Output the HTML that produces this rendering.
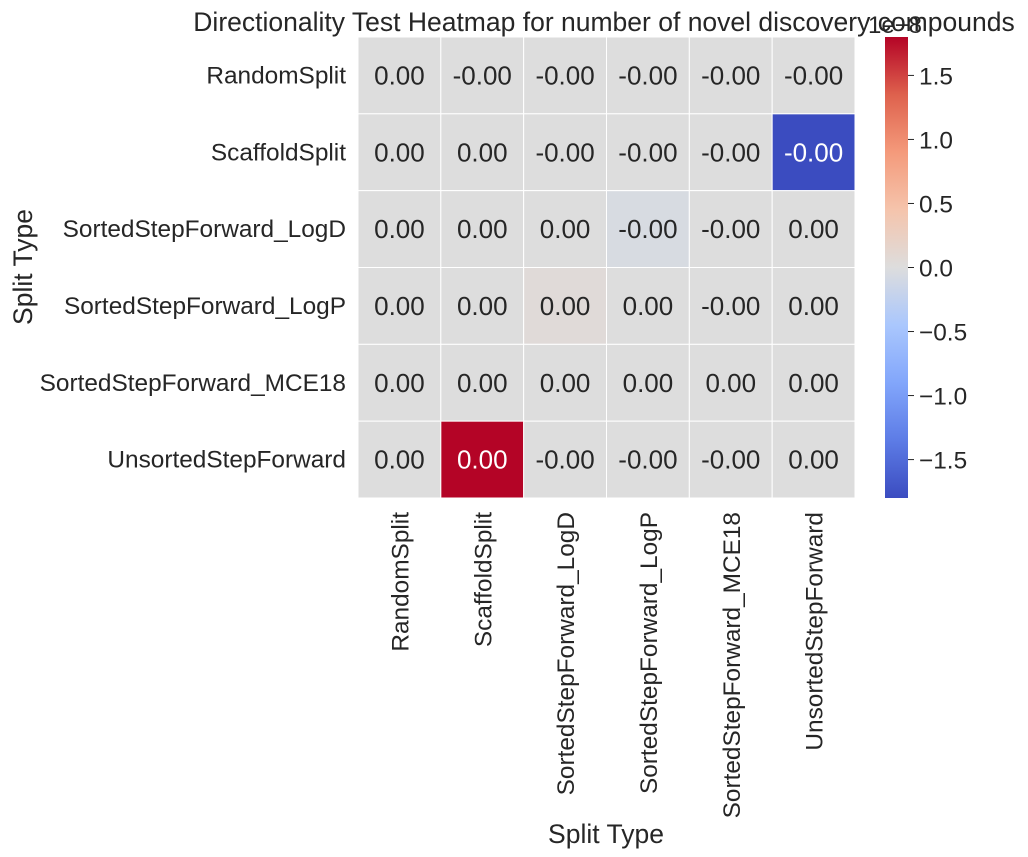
<!DOCTYPE html>
<html><head><meta charset="utf-8"><style>
html,body{margin:0;padding:0;background:#fff;}
svg{display:block;font-family:"Liberation Sans",Arial,sans-serif;}
</style></head><body>
<svg id="chart" width="1028" height="857" viewBox="0 0 1028 857" xmlns="http://www.w3.org/2000/svg">
<text x="604" y="31" font-size="26.5" text-anchor="middle" fill="#262626">Directionality Test Heatmap for number of novel discovery compounds</text>
<g id="cells"></g>
<g id="ylabels"></g>
<g id="xlabels"></g>
<text x="606" y="843" font-size="26.5" text-anchor="middle" fill="#262626">Split Type</text>
<text transform="translate(32,267) rotate(-90)" font-size="26.5" text-anchor="middle" fill="#262626">Split Type</text>
<defs><linearGradient id="cg" x1="0" y1="1" x2="0" y2="0">
<stop offset="0" stop-color="#3b4cc0"/><stop offset="0.125" stop-color="#5d7ce6"/><stop offset="0.25" stop-color="#82a6fb"/><stop offset="0.375" stop-color="#aac7fd"/><stop offset="0.5" stop-color="#dddddd"/><stop offset="0.625" stop-color="#f5c4ac"/><stop offset="0.75" stop-color="#f49a7b"/><stop offset="0.875" stop-color="#de614d"/><stop offset="1" stop-color="#b40426"/>
</linearGradient></defs>
<rect x="885" y="37" width="23" height="461" fill="url(#cg)"/>
<g id="cticks"></g>
<text x="895" y="33" font-size="24" text-anchor="middle" fill="#262626">1e−8</text>
</svg>
<script>
const categories = ["RandomSplit","ScaffoldSplit","SortedStepForward_LogD","SortedStepForward_LogP","SortedStepForward_MCE18","UnsortedStepForward"];
// values in units of 1e-8
const values = [
 [0,0,0,0,0,0],
 [0,0,0,0,0,-1.8],
 [0,0,0,-0.05,0,0],
 [0,0,0.05,0,0,0],
 [0,0,0,0,0,0],
 [0,1.8,0,0,0,0]
];
const cellLabels = [
 ["0.00","-0.00","-0.00","-0.00","-0.00","-0.00"],
 ["0.00","0.00","-0.00","-0.00","-0.00","-0.00"],
 ["0.00","0.00","0.00","-0.00","-0.00","0.00"],
 ["0.00","0.00","0.00","0.00","-0.00","0.00"],
 ["0.00","0.00","0.00","0.00","0.00","0.00"],
 ["0.00","0.00","-0.00","-0.00","-0.00","0.00"]
];
const cbTicks = [1.5,1.0,0.5,0.0,-0.5,-1.0,-1.5];
const vmin=-1.8, vmax=1.8;
const X0=358,X1=855,Y0=37,Y1=498;
const n=categories.length, cw=(X1-X0)/n, ch=(Y1-Y0)/n;
const xs=i=>X0+i*cw, ys=j=>Y0+j*ch;
const cbY=v=>Y1-(v-vmin)/(vmax-vmin)*(Y1-Y0);
const stops=[[59,76,192],[93,124,230],[130,166,251],[170,199,253],[221,221,221],[245,196,172],[244,154,123],[222,97,77],[180,4,38]];
function color(v){let t=(v-vmin)/(vmax-vmin);t=Math.max(0,Math.min(1,t))*8;const i=Math.min(7,Math.floor(t)),f=t-i;
const c=stops[i].map((a,k)=>Math.round(a+(stops[i+1][k]-a)*f));return `rgb(${c})`;}
const NS="http://www.w3.org/2000/svg";
function mk(tag,attrs,parent,txt){const e=document.createElementNS(NS,tag);for(const k in attrs)e.setAttribute(k,attrs[k]);if(txt!==undefined)e.textContent=txt;parent.appendChild(e);return e;}
const cells=document.getElementById('cells');
values.forEach((row,j)=>row.forEach((v,i)=>{
 const r=mk('rect',{x:xs(i),y:ys(j),width:cw,height:ch,fill:color(v),stroke:'#fff','stroke-width':1},cells);
 
 
 const dark=Math.abs(v)>0.9;
 const t=mk('text',{x:xs(i)+cw/2,y:ys(j)+ch/2+9,'font-size':26,'text-anchor':'middle',fill:dark?'#fff':'#262626'},cells,cellLabels[j][i]);
 
 
}));
const yl=document.getElementById('ylabels'),xl=document.getElementById('xlabels');
categories.forEach((c,j)=>{
 const t=mk('text',{x:346,y:ys(j)+ch/2+8,'font-size':24.4,'text-anchor':'end',fill:'#262626'},yl,c);
 
 
 const cx=xs(j)+cw/2+9;
 const u=mk('text',{transform:`translate(${cx},512) rotate(-90)`,'font-size':24.4,'text-anchor':'end',fill:'#262626'},xl,c);
 
 
});
const ct=document.getElementById('cticks');
cbTicks.forEach(v=>{
 const y=cbY(v);
 const l=mk('line',{x1:908,x2:914,y1:y,y2:y,stroke:'#262626','stroke-width':1},ct);
 
 
 const s=(v<0?'−':'')+Math.abs(v).toFixed(1);
 const t=mk('text',{x:919,y:y+9,'font-size':24.4,fill:'#262626'},ct,s);
 
 
});
</script>
</body></html>
